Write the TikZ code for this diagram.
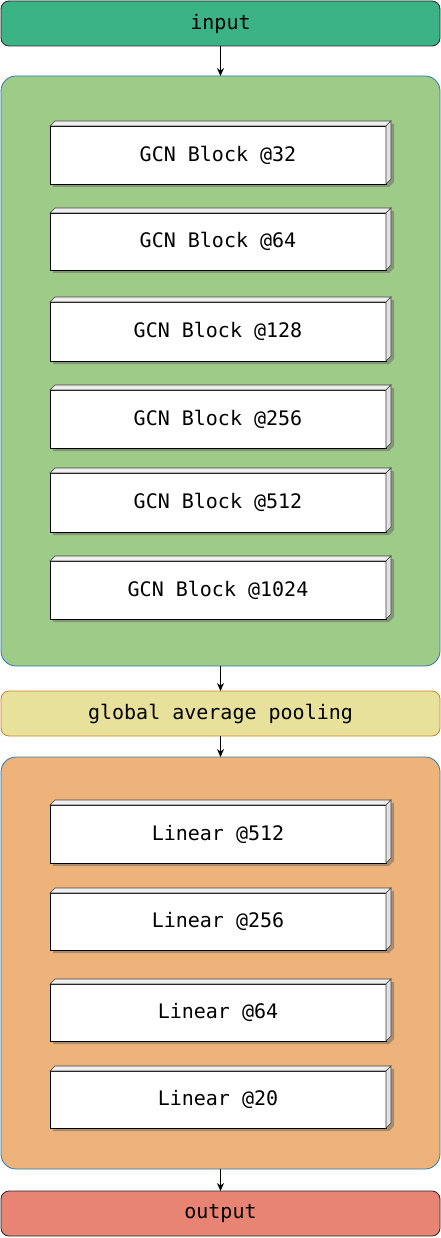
\documentclass[tikz,border=0pt]{standalone}
\usepackage{fontspec}
\setmonofont{DejaVu Sans Mono}
\usetikzlibrary{arrows.meta}
\definecolor{inc}{HTML}{3BB386}
\definecolor{gcnc}{HTML}{9ECB87}
\definecolor{poolc}{HTML}{E8E19C}
\definecolor{poolb}{HTML}{C8862A}
\definecolor{linc}{HTML}{EEB37B}
\definecolor{outc}{HTML}{E88473}
\definecolor{contb}{HTML}{2B7BB0}
\definecolor{topc}{HTML}{EFEFEF}
\definecolor{sidec}{HTML}{E2E2E2}
\tikzset{
  lbl/.style={font=\ttfamily\fontsize{20}{22}\selectfont},
  bar/.style={lbl, rounded corners=8pt, inner sep=0pt, outer sep=0pt, minimum width=439pt, minimum height=45pt, line width=0.8pt},
  cont/.style={draw=contb, rounded corners=15pt, inner sep=0pt, outer sep=0pt, minimum width=439pt, line width=0.8pt},
  blk/.style={lbl, draw=black, fill=white, inner sep=0pt, outer sep=0pt, minimum width=336pt, line width=0.9pt},
  face/.style={draw=black!75, line width=0.6pt},
  shd/.style={fill=black!60, opacity=0.5},
  arr/.style={-{Stealth[length=8pt,width=7pt]}, line width=0.8pt, black}
}
\newcommand\gblock[4]{%
  \fill[shd] (53,#2+3) -- (58,#2-2) -- (394,#2-2) -- (394,#3-2) -- (389,#3+3) -- (53,#3+3) -- cycle;
  \node[blk, minimum height=#3-#2] (#1) at (218,{(#2+#3)/2}) {#4};
  \draw[face, fill=topc] (#1.north west) -- ++(5,-5) -- ([xshift=5pt,yshift=5pt]#1.north east) -- (#1.north east) -- cycle;
  \draw[face, fill=sidec] (#1.north east) -- ++(5,-5) -- ([xshift=5pt,yshift=5pt]#1.south east) -- (#1.south east) -- cycle;
}
\begin{document}
\begin{tikzpicture}[x=1pt,y=-1pt]
\useasboundingbox (0,0) rectangle (441,1238);
\node[bar, draw=black!85, fill=inc] (input) at (220.5,23.5) {input};
\node[cont, fill=gcnc, minimum height=590pt] (gcn) at (220.5,371) {};
\node[bar, draw=poolb, fill=poolc] (pool) at (220.5,713.5) {global average pooling};
\node[cont, fill=linc, minimum height=412pt] (lin) at (220.5,963) {};
\node[bar, draw=black!85, fill=outc] (output) at (220.5,1213.5) {output};

\gblock{g1}{126}{184}{GCN Block @32}
\gblock{g2}{213}{270}{GCN Block @64}
\gblock{g3}{302}{361}{GCN Block @128}
\gblock{g4}{390}{448}{GCN Block @256}
\gblock{g5}{473}{532}{GCN Block @512}
\gblock{g6}{561}{619}{GCN Block @1024}

\gblock{l1}{805}{863}{Linear @512}
\gblock{l2}{893}{950}{Linear @256}
\gblock{l3}{984}{1041}{Linear @64}
\gblock{l4}{1071}{1128}{Linear @20}

\draw[arr] (input) -- (gcn);
\draw[arr] (gcn) -- (pool);
\draw[arr] (pool) -- (lin);
\draw[arr] (lin) -- (output);
\end{tikzpicture}
\end{document}
